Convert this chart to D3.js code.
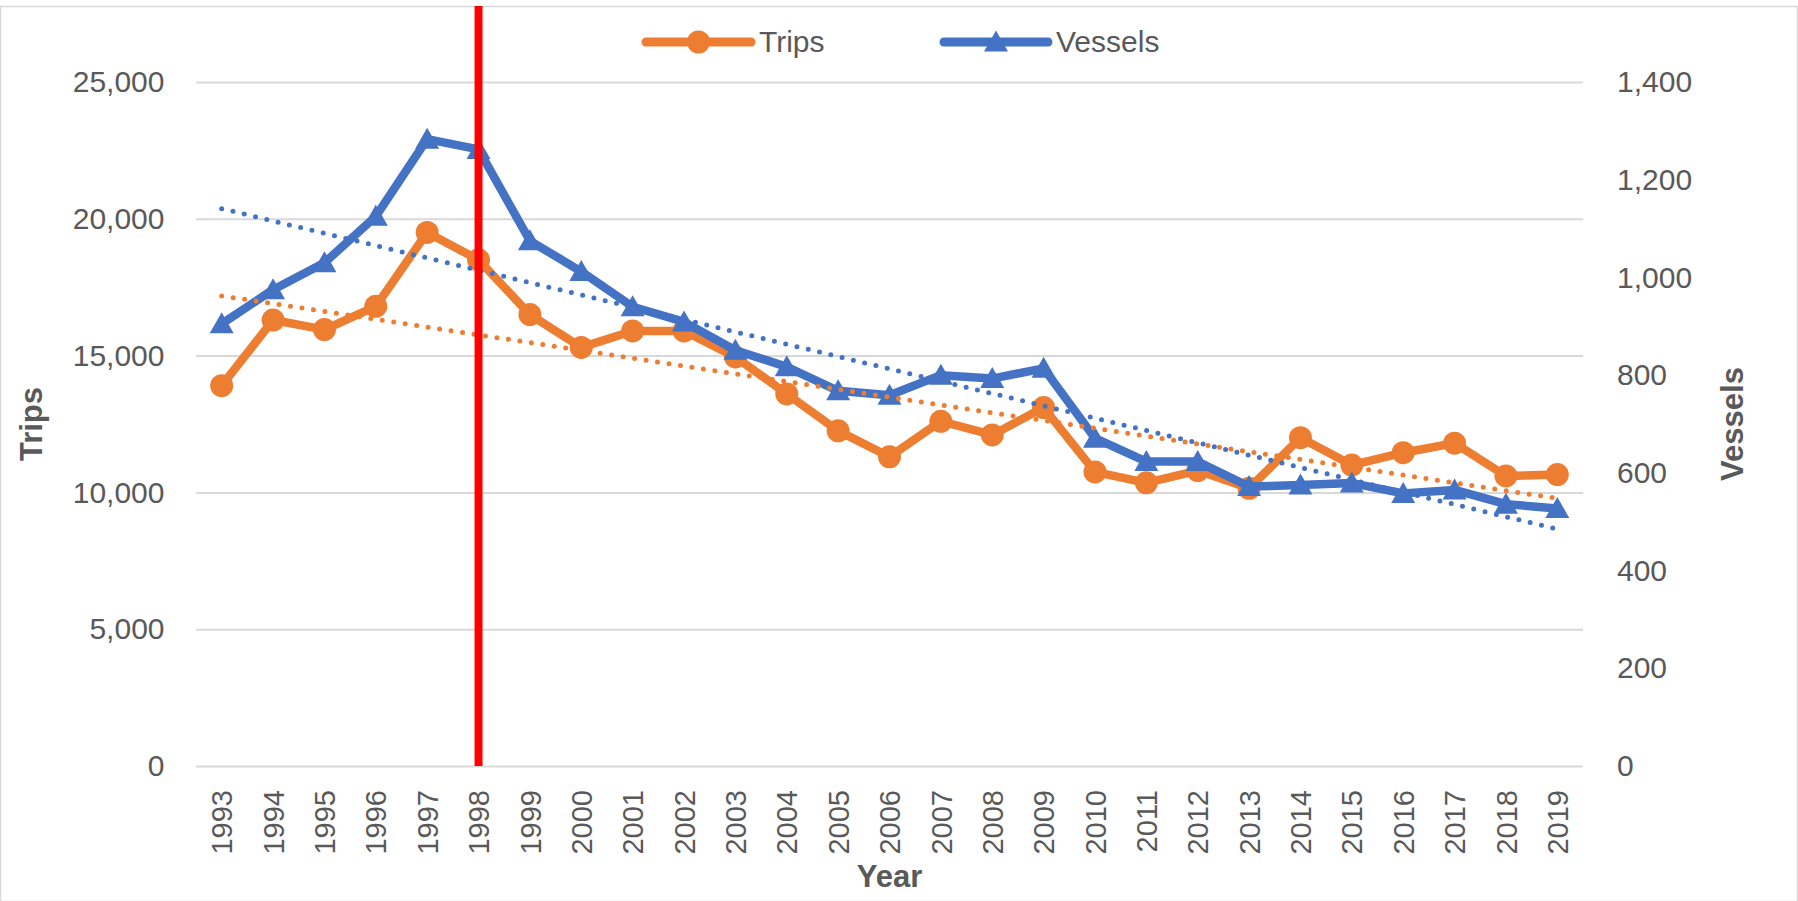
<!DOCTYPE html>
<html>
<head>
<meta charset="utf-8">
<script src="https://cdn.jsdelivr.net/npm/d3@7"></script>
<style>
  body { margin: 0; background: #fff; }
  svg text { font-family: "Liberation Sans", Arial, sans-serif; fill: #595959; }
</style>
</head>
<body>
<div id="chart"></div>
<script>
// chart values
var years = ["1993","1994","1995","1996","1997","1998","1999","2000","2001","2002","2003","2004","2005",
             "2006","2007","2008","2009","2010","2011","2012","2013","2014","2015","2016","2017","2018","2019"];
var trips = [13900,16300,15950,16800,19500,18500,16500,15300,15900,15900,14950,13600,12250,
             11300,12600,12100,13100,10750,10350,10800,10150,12000,11000,11450,11800,10600,10650];
var vessels = [905,975,1030,1125,1283,1262,1075,1012,940,909,851,817,768,
               759,800,793,814,671,623,623,572,575,579,558,565,536,527];
var tripTicks = [0,5000,10000,15000,20000,25000];
var vesselTicks = [0,200,400,600,800,1000,1200,1400];
var markerYear = "1998";

var width = 1798, height = 901;
var orange = "#ED7D31", blue = "#4472C4";
var plot = {left: 196, right: 1583, top: 82, bottom: 766};

var svg = d3.select("#chart").append("svg")
    .attr("width", width)
    .attr("height", height);

//outer chart border
svg.append("rect")
    .attr("x", 0.5).attr("y", 6.5)
    .attr("width", width - 1).attr("height", height - 6)
    .attr("fill", "none")
    .attr("stroke", "#d9d9d9")
    .attr("stroke-width", 1.5);

var x = d3.scalePoint().domain(years).range([plot.left, plot.right]).padding(0.5);
var yLeft = d3.scaleLinear().domain([0, 25000]).range([plot.bottom, plot.top]);
var yRight = d3.scaleLinear().domain([0, 1400]).range([plot.bottom, plot.top]);

//gridlines
var grid = svg.append("g")
    .attr("transform", "translate(" + plot.left + ",0)")
    .call(d3.axisLeft(yLeft).tickValues(tripTicks).tickSize(-(plot.right - plot.left)).tickFormat(""));
grid.select(".domain").remove();
grid.selectAll("line").attr("stroke", "#d9d9d9").attr("stroke-width", 2);

//left axis labels
var leftAxis = svg.append("g")
    .attr("transform", "translate(" + plot.left + ",0)")
    .call(d3.axisLeft(yLeft).tickValues(tripTicks).tickSize(0).tickPadding(31.5).tickFormat(d3.format(",")));
leftAxis.select(".domain").remove();
leftAxis.selectAll("text").style("font-size", "30px").attr("fill", null);

//right axis labels
var rightAxis = svg.append("g")
    .attr("transform", "translate(" + plot.right + ",0)")
    .call(d3.axisRight(yRight).tickValues(vesselTicks).tickSize(0).tickPadding(34).tickFormat(d3.format(",")));
rightAxis.select(".domain").remove();
rightAxis.selectAll("text").style("font-size", "30px").attr("fill", null);

//year labels, rotated
var xAxis = svg.append("g")
    .attr("transform", "translate(0," + plot.bottom + ")")
    .call(d3.axisBottom(x).tickSize(0));
xAxis.select(".domain").remove();
xAxis.selectAll("text")
    .attr("fill", null)
    .style("font-size", "29px")
    .attr("transform", "rotate(-90)")
    .attr("x", -24)
    .attr("y", 0)
    .attr("dy", "0.35em")
    .attr("text-anchor", "end");

//axis titles
svg.append("text")
    .attr("transform", "translate(42," + (plot.top + plot.bottom) / 2 + ") rotate(-90)")
    .attr("text-anchor", "middle")
    .style("font-size", "31px").style("font-weight", "bold")
    .text("Trips");
svg.append("text")
    .attr("transform", "translate(1743," + (plot.top + plot.bottom) / 2 + ") rotate(-90)")
    .attr("text-anchor", "middle")
    .style("font-size", "31px").style("font-weight", "bold")
    .text("Vessels");
svg.append("text")
    .attr("x", (plot.left + plot.right) / 2)
    .attr("y", 887)
    .attr("text-anchor", "middle")
    .style("font-size", "31px").style("font-weight", "bold")
    .text("Year");

var triangle = "M0,-11.5L12,9.5L-12,9.5Z";

function drawSeries(values, yScale, color, marker) {
    var line = d3.line()
        .x(function(d, i) { return x(years[i]); })
        .y(function(d) { return yScale(d); });
    svg.append("path")
        .datum(values)
        .attr("d", line)
        .attr("fill", "none")
        .attr("stroke", color)
        .attr("stroke-width", 8.5)
        .attr("stroke-linejoin", "round");
    var g = svg.append("g");
    if (marker == "circle") {
        g.selectAll("circle").data(values).enter().append("circle")
            .attr("cx", function(d, i) { return x(years[i]); })
            .attr("cy", function(d) { return yScale(d); })
            .attr("r", 11.5)
            .attr("fill", color);
    } else {
        g.selectAll("path").data(values).enter().append("path")
            .attr("d", triangle)
            .attr("transform", function(d, i) { return "translate(" + x(years[i]) + "," + yScale(d) + ")"; })
            .attr("fill", color);
    }
}

//least squares trend over the category index
function drawTrend(values, yScale, color) {
    var n = values.length;
    var mx = d3.mean(values, function(d, i) { return i; });
    var my = d3.mean(values);
    var sxy = 0, sxx = 0;
    values.forEach(function(v, i) { sxy += (i - mx) * (v - my); sxx += (i - mx) * (i - mx); });
    var slope = sxy / sxx, icpt = my - slope * mx;
    var ends = [0, n - 1];
    svg.append("line")
        .attr("x1", x(years[ends[0]])).attr("y1", yScale(icpt + slope * ends[0]))
        .attr("x2", x(years[ends[1]])).attr("y2", yScale(icpt + slope * ends[1]))
        .attr("stroke", color)
        .attr("stroke-width", 5)
        .attr("stroke-linecap", "round")
        .attr("stroke-dasharray", "0 11.6");
}

drawSeries(trips, yLeft, orange, "circle");
drawSeries(vessels, yRight, blue, "triangle");
drawTrend(trips, yLeft, orange);
drawTrend(vessels, yRight, blue);

//red marker line at 1998
svg.append("line")
    .attr("x1", x(markerYear)).attr("x2", x(markerYear))
    .attr("y1", 6).attr("y2", plot.bottom)
    .attr("stroke", "#FF0000")
    .attr("stroke-width", 8);

//legend
var legendItems = [
    {name: "Trips", color: orange, marker: "circle", x0: 646, x1: 751},
    {name: "Vessels", color: blue, marker: "triangle", x0: 944, x1: 1048}
];
var legend = svg.append("g").attr("class", "legend");
legendItems.forEach(function(item) {
    var cy = 42;
    legend.append("line")
        .attr("x1", item.x0).attr("x2", item.x1)
        .attr("y1", cy).attr("y2", cy)
        .attr("stroke", item.color)
        .attr("stroke-width", 9)
        .attr("stroke-linecap", "round");
    var mx = (item.x0 + item.x1) / 2;
    if (item.marker == "circle") {
        legend.append("circle").attr("cx", mx).attr("cy", cy).attr("r", 11.5).attr("fill", item.color);
    } else {
        legend.append("path").attr("d", triangle)
            .attr("transform", "translate(" + mx + "," + cy + ")")
            .attr("fill", item.color);
    }
    legend.append("text")
        .attr("x", item.x1 + 8)
        .attr("y", 52)
        .style("font-size", "30px")
        .text(item.name);
});
</script>
</body>
</html>
